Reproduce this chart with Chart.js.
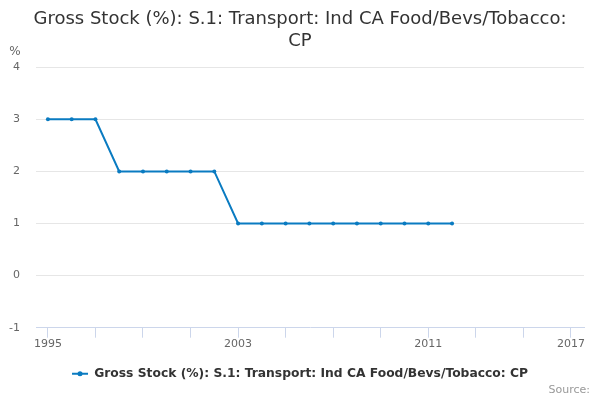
<!DOCTYPE html>
<html>
<head>
<meta charset="utf-8">
<script src="https://cdn.jsdelivr.net/npm/chart.js@4/dist/chart.umd.min.js"></script>
<style>
html,body{margin:0;padding:0;background:#fff;}
#wrap{width:600px;height:400px;position:relative;}
</style>
</head>
<body>
<div id="wrap"><canvas id="c" width="600" height="400"></canvas></div>
<script>
const titleLines = ["Gross Stock (%): S.1: Transport: Ind CA Food/Bevs/Tobacco:", "CP"];
const seriesName = "Gross Stock (%): S.1: Transport: Ind CA Food/Bevs/Tobacco: CP";
const years = [1995,1996,1997,1998,1999,2000,2001,2002,2003,2004,2005,2006,2007,2008,2009,2010,2011,2012];
const values = [3,3,3,2,2,2,2,2,1,1,1,1,1,1,1,1,1,1];
const xTickValues = [1995,1997,1999,2001,2003,2005,2007,2009,2011,2013,2015,2017];
const xTickLabels = [1995,2003,2011,2017];
const yTicks = [-1,0,1,2,3,4];
const unitLabel = "%";
const sourceLabel = "Source:";

const FONT = "'DejaVu Sans', sans-serif";
const lineColor = "#0a7bc1";

const extras = {
  id: 'extras',
  afterDraw(chart) {
    const ctx = chart.ctx;
    ctx.save();
    ctx.font = "12px " + FONT;
    ctx.fillStyle = "#666666";
    ctx.textAlign = "center";
    ctx.textBaseline = "middle";
    ctx.fillText(unitLabel, 15, 52);
    ctx.font = "11px " + FONT;
    ctx.textAlign = "right";
    ctx.fillStyle = "#999999";
    ctx.fillText(sourceLabel, 590, 390);
    // legend dot
    const lg = chart.legend;
    if (lg && lg.legendHitBoxes && lg.legendHitBoxes.length) {
      const hb = lg.legendHitBoxes[0];
      const cx = hb.left + 8;
      const cy = hb.top + hb.height / 2;
      ctx.beginPath();
      ctx.arc(cx, cy, 2.5, 0, Math.PI * 2);
      ctx.fillStyle = lineColor;
      ctx.fill();
    }
    ctx.restore();
  }
};

new Chart(document.getElementById('c'), {
  type: 'line',
  data: {
    datasets: [{
      label: seriesName,
      data: years.map((y, i) => ({x: y, y: values[i]})),
      borderColor: lineColor,
      backgroundColor: lineColor,
      borderWidth: 2,
      pointRadius: 2,
      pointHoverRadius: 2,
      pointBorderWidth: 0,
      tension: 0,
      fill: false
    }]
  },
  options: {
    responsive: false,
    animation: false,
    devicePixelRatio: 1,
    layout: { padding: { left: 0, right: 0, top: 0, bottom: 10 } },
    plugins: {
      title: {
        display: true,
        text: titleLines,
        color: "#333333",
        font: { family: FONT, size: 18, weight: 'normal', lineHeight: 1.2 },
        padding: { top: 9, bottom: 15 }
      },
      legend: {
        display: true,
        position: 'bottom',
        labels: {
          usePointStyle: false,
          boxWidth: 16,
          boxHeight: 2,
          color: "#333333",
          font: { family: FONT, size: 12.3, weight: 'bold' },
          padding: 10,
          generateLabels(chart) {
            return Chart.defaults.plugins.legend.labels.generateLabels(chart)
              .map(l => Object.assign({}, l, { lineWidth: 0, strokeStyle: 'rgba(0,0,0,0)' }));
          }
        }
      },
      tooltip: { enabled: false }
    },
    scales: {
      x: {
        type: 'linear',
        min: 1994.5,
        max: 2017.55,
        afterBuildTicks(scale) {
          scale.ticks = xTickValues.map(v => ({ value: v }));
        },
        afterFit(scale) { scale.height = 30; },
        ticks: {
          autoSkip: false,
          maxRotation: 0,
          color: "#666666",
          font: { family: FONT, size: 11 },
          padding: 0,
          callback: (v) => xTickLabels.includes(v) ? String(v) : ''
        },
        grid: {
          drawOnChartArea: false,
          color: "#ccd6eb",
          tickLength: 10,
          lineWidth: 1
        },
        border: { color: "#ccd6eb", width: 1 }
      },
      y: {
        min: -1,
        max: 4,
        afterBuildTicks(scale) {
          scale.ticks = yTicks.map(v => ({ value: v }));
        },
        afterFit(scale) { scale.width = 36; },
        ticks: {
          color: "#666666",
          font: { family: FONT, size: 11 },
          padding: 16,
          callback: (v) => String(v)
        },
        grid: {
          color: (c) => c.tick && c.tick.value === -1 ? 'rgba(0,0,0,0)' : "#e6e6e6",
          drawTicks: false,
          lineWidth: 1
        },
        border: { display: false }
      },
      yRightSpacer: {
        position: 'right',
        min: -1,
        max: 4,
        afterFit(scale) { scale.width = 16; },
        ticks: { display: false },
        grid: { display: false, drawTicks: false },
        border: { display: false }
      }
    }
  },
  plugins: [extras]
});
</script>
</body>
</html>
